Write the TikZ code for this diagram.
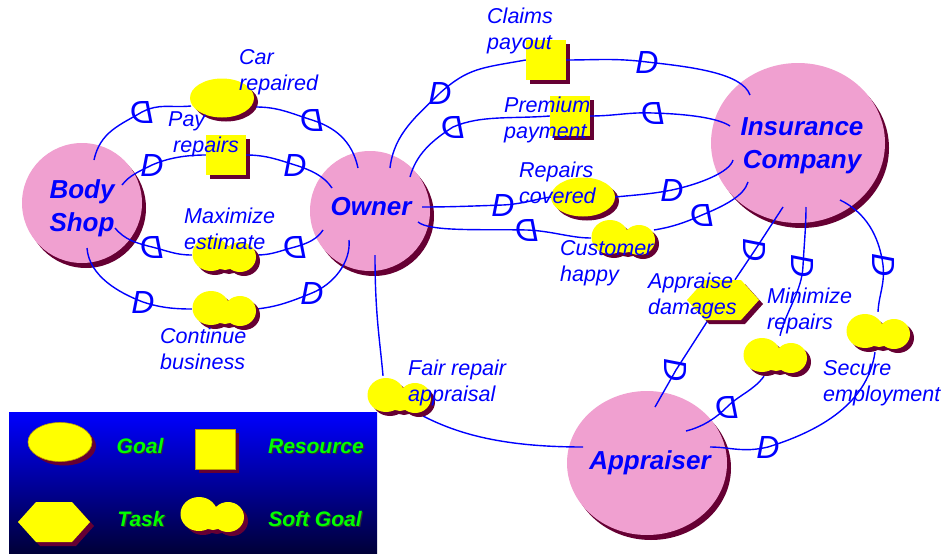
\documentclass[tikz,border=0pt]{standalone}
\usepackage{fontspec}
\setmainfont{Liberation Sans}
\usetikzlibrary{shapes.geometric,shadows}

\definecolor{actorpink}{RGB}{240,160,208}
\definecolor{shadowred}{RGB}{102,0,51}
\definecolor{depyellow}{RGB}{255,255,0}
\definecolor{linkblue}{RGB}{0,0,255}
\definecolor{keygreen}{RGB}{0,255,0}
\definecolor{keytop}{RGB}{0,0,255}
\definecolor{keybottom}{RGB}{0,0,55}
\definecolor{keyoutline}{RGB}{190,160,0}

\tikzset{
  actor/.style={fill=actorpink, inner sep=0pt,
    drop shadow={shadow xshift=4pt, shadow yshift=-5pt, fill=shadowred, opacity=1}},
  actortext/.style={text=linkblue, font=\bfseries\itshape\fontsize{26}{33}\selectfont,
    align=center, inner sep=0pt},
  depshadow/.style={drop shadow={shadow xshift=4pt, shadow yshift=-4pt, fill=shadowred, opacity=1}},
  goal/.style={ellipse, fill=depyellow, minimum width=64pt, minimum height=39pt,
    inner sep=0pt, depshadow},
  resource/.style={rectangle, fill=depyellow, minimum size=40pt, inner sep=0pt, depshadow},
  softgoal/.style={rectangle, minimum width=64pt, minimum height=40pt, inner sep=0pt},
  task/.style={rectangle, minimum width=73pt, minimum height=40pt, inner sep=0pt},
  link/.style={draw=linkblue, line width=1.4pt},
  dmark/.style={font=\itshape\fontsize{32}{32}\selectfont, text=linkblue, inner sep=0pt},
  lbl/.style={font=\itshape\fontsize{21.5}{26}\selectfont, text=linkblue, align=left,
    inner sep=0pt, anchor=north west},
  keytext/.style={font=\bfseries\itshape\fontsize{21}{21}\selectfont, text=keygreen, inner sep=0pt},
  keyshade/.style={font=\bfseries\itshape\fontsize{21}{21}\selectfont, text=black!80, inner sep=0pt},
  legendbox/.style={rectangle, minimum width=368pt, minimum height=142pt, inner sep=0pt,
    top color=keytop, bottom color=keybottom, draw=none},
  % soft goal: a two-lobed cloud with its shadow
  softblob/.pic={
    \begin{scope}[shift={(4,4)}]
      \fill[shadowred] (-13,-1) ellipse [x radius=18.5pt, y radius=17pt]
                       (16,2) ellipse [x radius=16pt, y radius=15pt]
                       (1,3) ellipse [x radius=12pt, y radius=12pt];
    \end{scope}
    \fill[depyellow] (-13,-1) ellipse [x radius=18.5pt, y radius=17pt]
                     (16,2) ellipse [x radius=16pt, y radius=15pt]
                     (1,3) ellipse [x radius=12pt, y radius=12pt];
  },
  % task: a flattened hexagon with its shadow
  taskhex/.pic={
    \fill[shadowred] (-32,4) -- (-14,-16) -- (22,-16) -- (40,4) -- (22,24) -- (-14,24) -- cycle;
    \fill[depyellow] (-36,0) -- (-18,-20) -- (18,-20) -- (36,0) -- (18,20) -- (-18,20) -- cycle;
  },
}

\begin{document}
\begin{tikzpicture}[x=1pt, y=-1pt]
\useasboundingbox (0,0) rectangle (943,554);

% ---------- actors ----------
\node[actor, circle, minimum size=120pt] (bs) at (82,203) {};
\node[actor, circle, minimum size=120pt] (ow) at (370,211) {};
\node[actor, ellipse, minimum width=174pt, minimum height=160pt] (ic) at (798,143) {};
\node[actor, ellipse, minimum width=160pt, minimum height=144pt] (ap) at (647,463) {};

% ---------- dependums ----------
\node[goal] (cr) at (222,98) {};
\node[resource] (pr) at (226,155) {};
\node[softgoal] (me) at (224,255) {};
\node[softgoal] (cb) at (224,309) {};
\node[resource] (cp) at (546,60) {};
\node[resource] (pp) at (570,116) {};
\node[goal] (rc) at (583,197) {};
\node[softgoal] (ch) at (623,238) {};
\node[task] (ad) at (723,300) {};
\node[softgoal] (mr) at (775,356) {};
\node[softgoal] (se) at (878,332) {};
\node[softgoal] (fr) at (399,396) {};

% ---------- dependency marks ----------
\node[dmark] (d1) at (142,112) {\reflectbox{D}};
\node[dmark] (d2) at (312,120) {\reflectbox{D}};
\node[dmark] (d3) at (152,165) {D};
\node[dmark] (d4) at (295,165) {D};
\node[dmark] (d5) at (152,247) {\reflectbox{D}};
\node[dmark] (d6) at (295,247) {\reflectbox{D}};
\node[dmark] (d7) at (143,302) {D};
\node[dmark] (d8) at (312,293) {D};
\node[dmark] (d9) at (440,93) {D};
\node[dmark] (d10) at (647,62) {D};
\node[dmark] (d11) at (453,127) {\reflectbox{D}};
\node[dmark] (d12) at (653,113) {\reflectbox{D}};
\node[dmark] (d13) at (503,205) {D};
\node[dmark] (d14) at (672,190) {D};
\node[dmark] (d15) at (527,230) {\reflectbox{D}};
\node[dmark] (d16) at (702,215) {\reflectbox{D}};
\node[dmark, rotate=-90] (d17) at (755,250) {D};
\node[dmark, rotate=-90] (d18) at (676,370) {D};
\node[dmark, rotate=-90] (d19) at (803,266) {D};
\node[dmark] (d20) at (727,407) {\reflectbox{D}};
\node[dmark, rotate=-90] (d21) at (883,265) {D};
\node[dmark] (d22) at (768,447) {D};

% ---------- Body Shop -- Owner ----------
\draw[link] ([shift={(12,-43)}]bs.center) .. controls +(6,-28) and +(-22,13) .. (d1.center)
  .. controls +(18,-9) and +(-22,2) .. ([shift={(-31,8)}]cr.center);
\draw[link] ([shift={(34,9)}]cr.center) .. controls +(22,0) and +(-22,-7) .. (d2.center)
  .. controls +(22,7) and +(-6,-28) .. ([shift={(-12,-43)}]ow.center);

\draw[link] ([shift={(40,-18)}]bs.center) .. controls +(8,-10) and +(-14,7) .. (d3.center)
  .. controls +(16,-7) and +(-20,0) .. (pr.west);
\draw[link] (pr.east) .. controls +(20,0) and +(-16,-5) .. (d4.center)
  .. controls +(16,5) and +(-8,-12) .. ([shift={(-38,-23)}]ow.center);

\draw[link] ([shift={(33,25)}]bs.center) .. controls +(10,12) and +(-16,-4) .. (d5.center)
  .. controls +(16,4) and +(-16,0) .. (me.west);
\draw[link] (me.east) .. controls +(16,0) and +(-16,4) .. (d6.center)
  .. controls +(14,-4) and +(-6,9) .. ([shift={(-47,19)}]ow.center);

\draw[link] ([shift={(5,45)}]bs.center) .. controls +(2,28) and +(-24,-9) .. (d7.center)
  .. controls +(18,6) and +(-16,0) .. (cb.west);
\draw[link] (cb.east) .. controls +(20,-2) and +(-22,9) .. (d8.center)
  .. controls +(22,-9) and +(2,22) .. ([shift={(-21,29)}]ow.center);

% ---------- Owner -- Insurance Company ----------
\draw[link] ([shift={(20,-43)}]ow.center) .. controls +(4,-35) and +(-22,22) .. (d9.center)
  .. controls +(28,-25) and +(-45,8) .. (cp.west);
\draw[link] (cp.east) .. controls +(30,0) and +(-32,-4) .. (d10.center)
  .. controls +(45,5) and +(-8,-22) .. ([shift={(-48,-48)}]ic.center);

\draw[link] ([shift={(40,-34)}]ow.center) .. controls +(6,-22) and +(-22,14) .. (d11.center)
  .. controls +(28,-12) and +(-40,3) .. (pp.west);
\draw[link] (pp.east) .. controls +(25,0) and +(-25,-1) .. (d12.center)
  .. controls +(35,1) and +(-12,-8) .. ([shift={(-68,-17)}]ic.center);

\draw[link] ([shift={(52,-4)}]ow.center) .. controls +(30,0) and +(-30,1) .. (d13.center)
  .. controls +(20,-1) and +(-15,2) .. (rc.west);
\draw[link] (rc.east) .. controls +(20,-2) and +(-20,4) .. (d14.center)
  .. controls +(28,-6) and +(-3,12) .. ([shift={(-65,17)}]ic.center);

\draw[link] ([shift={(48,11)}]ow.center) .. controls +(12,10) and +(-45,-1) .. (d15.center)
  .. controls +(25,1) and +(-20,0) .. (ch.west);
\draw[link] ([shift={(31,-8)}]ch.center) .. controls +(18,-3) and +(-18,8) .. (d16.center)
  .. controls +(22,-9) and +(-4,14) .. ([shift={(-50,39)}]ic.center);

% ---------- Insurance Company -- Appraiser ----------
\draw[link] ([shift={(-15,64)}]ic.center) -- (d17.center) -- ([xshift=12pt]ad.north);
\draw[link] ([xshift=-15pt]ad.south) -- (d18.center) -- ([shift={(8,-56)}]ap.center);

\draw[link] ([shift={(8,64)}]ic.center) .. controls +(0,20) and +(1,-20) .. (d19.center)
  .. controls +(-1,25) and +(6,-25) .. ([xshift=5pt]mr.north);
\draw[link] ([xshift=-11pt]mr.south) .. controls +(-10,14) and +(12,-12) .. (d20.center)
  .. controls +(-12,12) and +(16,-4) .. ([shift={(39,-32)}]ap.center);

\draw[link] ([shift={(42,57)}]ic.center) .. controls +(25,12) and +(-4,-30) .. (d21.center)
  .. controls +(2,20) and +(1,-18) .. (se.north);
\draw[link] ([xshift=-3pt]se.south) .. controls +(-8,55) and +(45,-14) .. (d22.center)
  .. controls +(-25,6) and +(20,0) .. ([shift={(63,-16)}]ap.center);

% ---------- Owner -- Appraiser ----------
\draw[link] ([shift={(5,44)}]ow.center) .. controls +(0,60) and +(-3,-35) .. ([xshift=-16pt]fr.north);
\draw[link] ([shift={(24,20)}]fr.center) .. controls +(35,18) and +(-80,0) .. ([shift={(-64,-16)}]ap.center);

% ---------- soft goal and task shapes ----------
\pic at (me.center) {softblob};
\pic at (cb.center) {softblob};
\pic at (ch.center) {softblob};
\pic at (mr.center) {softblob};
\pic at (se.center) {softblob};
\pic at (fr.center) {softblob};
\pic at (ad.center) {taskhex};

% ---------- actor names ----------
\node[actortext] (bst) at ([shift={(0,5)}]bs.center) {Body\\Shop};
\node[actortext] (owt) at ([shift={(1,-4)}]ow.center) {Owner};
\node[actortext] (ict) at ([shift={(4,3)}]ic.center) {Insurance\\Company};
\node[actortext] (apt) at ([shift={(3,0)}]ap.center) {Appraiser};

% ---------- dependum labels ----------
\node[lbl] (tcr) at (239,49) {Car\\repaired};
\node[lbl] (tpr) at (168,112) {Pay\\\hspace*{5pt}repairs};
\node[lbl] (tme) at (184,208) {Maximize\\estimate};
\node[lbl] (tcb) at (160,328) {Continue\\business};
\node[lbl] (tcp) at (487,8) {Claims\\payout};
\node[lbl] (tpp) at (504,97) {Premium\\payment};
\node[lbl] (trc) at (519,162) {Repairs\\covered};
\node[lbl] (tch) at (560,240) {Customer\\happy};
\node[lbl] (tad) at (648,273) {Appraise\\damages};
\node[lbl] (tmr) at (767,288) {Minimize\\repairs};
\node[lbl] (tse) at (823,360) {Secure\\employment};
\node[lbl] (tfr) at (408,360) {Fair repair\\appraisal};

% ---------- legend ----------
\node[legendbox] (key) at (193,483) {};
\node[goal, draw=keyoutline, line width=0.6pt] (kgoal) at (60,442) {};
\node[resource, draw=keyoutline, line width=0.6pt] (kres) at (215,449) {};
\node[task] (ktask) at (54,522) {};
\pic at (ktask.center) {taskhex};
\node[softgoal] (ksoft) at (212,515) {};
\pic at (ksoft.center) {softblob};

\node[keyshade] (kgoals) at (141.2,447.2) {Goal};
\node[keytext] (kgoalt) at (140,446) {Goal};
\node[keyshade] (kress) at (317.2,447.2) {Resource};
\node[keytext] (krest) at (316,446) {Resource};
\node[keyshade] (ktasks) at (142.2,520.2) {Task};
\node[keytext] (ktaskt) at (141,519) {Task};
\node[keyshade] (ksofts) at (316.2,520.2) {Soft Goal};
\node[keytext] (ksoftt) at (315,519) {Soft Goal};
\end{tikzpicture}
\end{document}
